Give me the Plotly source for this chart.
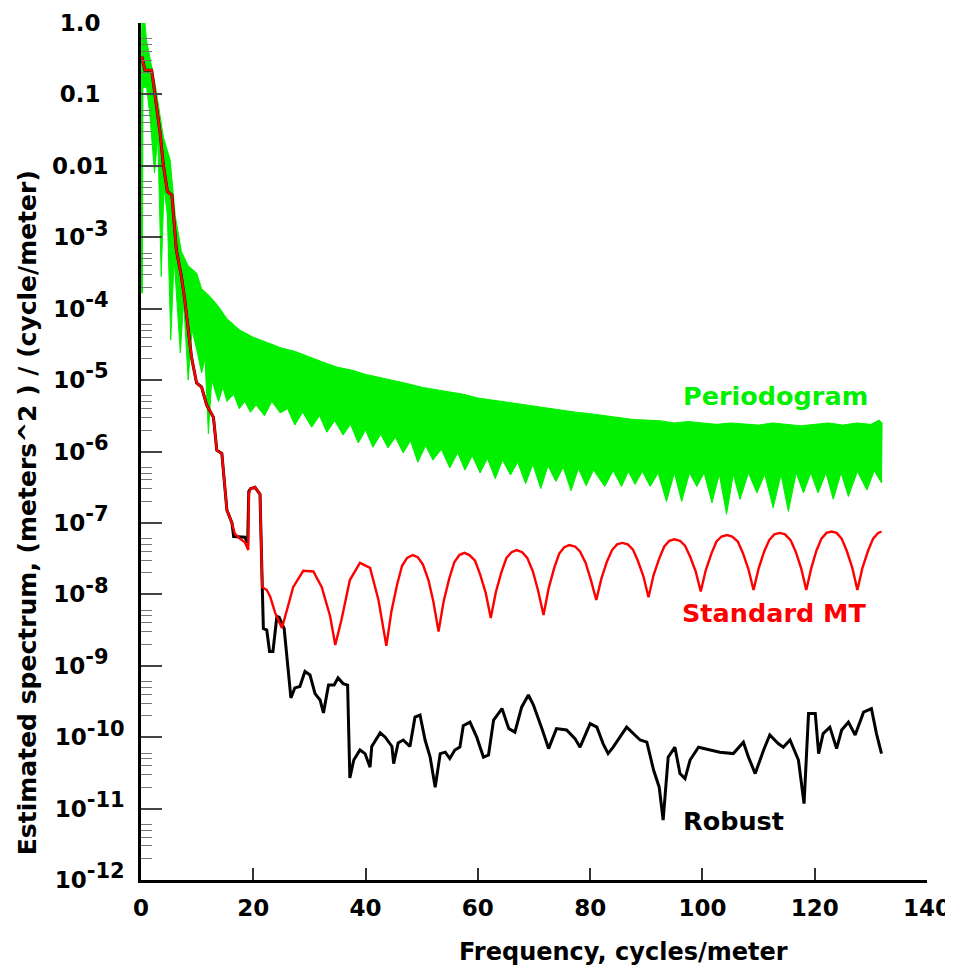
import plotly.graph_objects as go

# ---------------- data (y stored as log10 of the spectrum) -------------
# Periodogram: upper and lower envelope of the (very dense) green trace
pg_upper = [(0.05, 0.0), (0.7, 0.0), (1.0, -0.25), (1.6, -0.5), (2.5, -0.85), (3.2, -1.2), (4.0, -1.6),
            (5.2, -1.92), (6.1, -2.7), (7.2, -3.2), (8.4, -3.4), (9.9, -3.5), (10.8, -3.72), (12.3, -3.83),
            (13.8, -3.97), (15.3, -4.14), (17.6, -4.3), (20.0, -4.4), (22.5, -4.47), (25.0, -4.55),
            (27.5, -4.6), (30.0, -4.68), (32.5, -4.75), (35.0, -4.82), (37.5, -4.86), (40.0, -4.92),
            (42.5, -4.96), (45.0, -5.0), (47.5, -5.05), (50.0, -5.1), (52.5, -5.13), (55.0, -5.17),
            (57.5, -5.2), (60.0, -5.25), (62.5, -5.28), (65.0, -5.3), (67.5, -5.34), (70.0, -5.37),
            (72.5, -5.4), (75.0, -5.42), (77.5, -5.45), (80.0, -5.47), (82.5, -5.5), (85.0, -5.52),
            (87.5, -5.55), (90.0, -5.56), (92.5, -5.57), (95.0, -5.6), (97.5, -5.58), (100.0, -5.6),
            (102.5, -5.62), (105.0, -5.6), (107.5, -5.62), (110.0, -5.63), (112.5, -5.6), (115.0, -5.62),
            (117.5, -5.64), (120.0, -5.62), (122.5, -5.6), (125.0, -5.63), (127.5, -5.6), (130.0, -5.62),
            (131.5, -5.56), (132.0, -5.6)]
pg_lower = [(0.05, -0.1), (0.1, -3.78), (0.25, -3.78), (0.35, -0.9), (1.0, -0.9), (1.6, -1.3), (2.4, -2.1),
            (3.0, -1.6), (3.6, -3.55), (4.1, -2.3), (4.7, -2.7), (5.3, -4.44), (5.9, -3.3), (7.0, -4.62),
            (7.6, -3.9), (8.4, -5.0), (9.1, -4.3), (10.0, -4.6), (10.8, -4.9), (11.4, -4.7), (12.0, -5.75),
            (12.6, -5.0), (13.8, -5.3), (14.6, -5.1), (15.3, -5.3), (16.5, -5.2), (17.5, -5.4), (18.5, -5.3),
            (19.5, -5.45), (20.5, -5.35), (22.0, -5.5), (23.3, -5.3), (24.8, -5.46), (26.1, -5.4),
            (27.4, -5.63), (28.8, -5.45), (30.4, -5.66), (31.8, -5.5), (33.1, -5.73), (34.5, -5.57),
            (36.0, -5.77), (37.3, -5.62), (38.7, -5.88), (40.0, -5.7), (41.3, -5.94), (42.7, -5.76),
            (44.0, -5.95), (45.3, -5.8), (46.7, -6.02), (48.0, -5.85), (49.3, -6.15), (50.7, -5.92),
            (52.0, -6.12), (53.5, -5.97), (55.0, -6.23), (56.4, -6.02), (57.7, -6.26), (59.0, -6.06),
            (60.4, -6.3), (61.7, -6.1), (63.1, -6.38), (64.4, -6.12), (65.8, -6.33), (67.1, -6.15),
            (68.5, -6.45), (69.8, -6.18), (71.2, -6.52), (72.5, -6.2), (73.9, -6.42), (75.2, -6.22),
            (76.6, -6.55), (77.9, -6.24), (79.3, -6.48), (80.6, -6.26), (82.6, -6.49), (84.1, -6.27),
            (85.6, -6.49), (86.8, -6.28), (88.0, -6.46), (89.3, -6.28), (90.7, -6.49), (92.1, -6.3),
            (93.6, -6.70), (95.0, -6.3), (96.3, -6.70), (97.7, -6.3), (99.0, -6.49), (100.3, -6.3),
            (101.7, -6.72), (103.0, -6.32), (104.3, -6.88), (105.5, -6.32), (106.7, -6.67), (108.2, -6.3),
            (109.7, -6.58), (111.1, -6.32), (112.6, -6.79), (114.0, -6.32), (115.3, -6.84), (116.7, -6.3),
            (118.0, -6.58), (119.3, -6.3), (120.6, -6.58), (122.0, -6.3), (123.3, -6.67), (124.7, -6.3),
            (126.0, -6.63), (127.6, -6.28), (129.3, -6.54), (130.6, -6.27), (131.9, -6.44), (132.0, -5.6)]

# Standard multitaper estimate
mt_points = [(0.15, -0.47), (0.7, -0.66), (1.9, -0.66), (2.5, -1.03), (3.4, -1.54), (4.0, -2.0), (4.7, -2.36),
             (5.5, -2.41), (6.3, -3.18), (7.2, -3.55), (7.8, -3.88), (9.0, -4.68), (9.9, -5.04), (10.8, -5.1),
             (11.7, -5.35), (12.9, -5.52), (13.5, -5.98), (14.4, -6.03), (15.3, -6.82), (16.2, -7.0),
             (16.7, -7.15), (17.6, -7.22), (18.5, -7.27), (19.1, -7.38), (19.2, -6.6), (19.5, -6.52),
             (20.3, -6.5), (21.2, -6.6), (21.6, -7.9), (22.4, -7.94), (23.0, -8.03), (23.9, -8.26),
             (25.1, -8.47), (26.0, -8.22), (27.1, -7.9), (28.9, -7.67), (30.7, -7.68), (32.2, -7.9),
             (33.7, -8.31), (34.6, -8.71), (35.7, -8.36), (37.2, -7.8), (39.0, -7.56), (40.8, -7.63),
             (42.3, -8.08), (43.0, -8.40), (43.7, -8.72), (44.6, -8.24), (45.6, -7.87), (46.5, -7.60),
             (47.4, -7.49), (48.4, -7.45), (49.3, -7.48), (50.2, -7.58), (51.2, -7.80), (52.1, -8.11),
             (53.0, -8.52), (53.9, -8.10), (54.9, -7.78), (55.8, -7.55), (56.7, -7.45), (57.6, -7.42),
             (58.5, -7.45), (59.5, -7.53), (60.4, -7.72), (61.4, -7.98), (62.3, -8.33), (63.2, -7.97),
             (64.2, -7.69), (65.1, -7.49), (66.0, -7.41), (66.9, -7.38), (67.9, -7.41), (68.8, -7.49),
             (69.8, -7.68), (70.7, -7.94), (71.7, -8.29), (72.6, -7.92), (73.6, -7.63), (74.5, -7.43),
             (75.4, -7.34), (76.3, -7.31), (77.3, -7.33), (78.2, -7.40), (79.2, -7.56), (80.1, -7.79),
             (81.1, -8.08), (82.0, -7.78), (83.0, -7.54), (83.9, -7.38), (84.8, -7.30), (85.7, -7.28),
             (86.7, -7.30), (87.6, -7.37), (88.5, -7.53), (89.5, -7.75), (90.4, -8.04), (91.3, -7.73),
             (92.3, -7.50), (93.2, -7.33), (94.1, -7.25), (95.0, -7.23), (96.0, -7.25), (96.9, -7.32),
             (97.8, -7.47), (98.8, -7.68), (99.7, -7.96), (100.6, -7.66), (101.6, -7.43), (102.5, -7.26),
             (103.4, -7.19), (104.4, -7.17), (105.3, -7.19), (106.3, -7.26), (107.2, -7.42), (108.2, -7.65),
             (109.1, -7.94), (110.0, -7.64), (111.0, -7.40), (111.9, -7.24), (112.8, -7.16), (113.8, -7.14),
             (114.7, -7.16), (115.7, -7.24), (116.6, -7.40), (117.6, -7.64), (118.5, -7.94), (119.4, -7.63),
             (120.3, -7.39), (121.2, -7.22), (122.1, -7.14), (123.0, -7.12), (123.9, -7.14), (124.8, -7.22),
             (125.7, -7.39), (126.7, -7.63), (127.6, -7.94), (128.5, -7.63), (129.5, -7.39), (130.4, -7.22),
             (131.3, -7.14), (131.9, -7.12)]

# Robust multitaper estimate
rb_points = [(0.15, -0.47), (0.7, -0.66), (1.9, -0.66), (2.5, -1.03), (3.4, -1.54), (4.0, -2.0), (4.7, -2.36),
             (5.5, -2.41), (6.3, -3.18), (7.2, -3.55), (7.8, -3.88), (9.0, -4.68), (9.9, -5.04), (10.8, -5.1),
             (11.7, -5.35), (12.9, -5.52), (13.5, -5.98), (14.4, -6.03), (15.3, -6.82), (16.2, -7.0),
             (16.5, -7.19), (18.5, -7.2), (19.0, -7.28), (19.2, -6.56), (19.5, -6.52), (20.3, -6.5),
             (21.2, -6.6), (21.6, -7.9), (21.8, -8.48), (22.4, -8.5), (22.9, -8.8), (23.5, -8.8),
             (24.2, -8.31), (24.6, -8.32), (25.5, -8.48), (26.7, -9.45), (27.4, -9.31), (28.3, -9.29),
             (29.2, -9.08), (30.1, -9.13), (31.0, -9.39), (31.9, -9.48), (32.5, -9.66), (33.4, -9.27),
             (34.4, -9.27), (35.1, -9.17), (36.0, -9.25), (36.8, -9.27), (37.2, -10.57), (37.9, -10.32),
             (39.0, -10.18), (39.9, -10.23), (40.8, -10.42), (41.1, -10.13), (42.6, -9.94), (43.5, -10.0),
             (44.7, -10.13), (45.0, -10.37), (45.8, -10.08), (46.7, -10.04), (47.9, -10.13), (48.8, -9.72),
             (49.7, -9.69), (50.6, -10.04), (51.5, -10.28), (52.4, -10.70), (53.3, -10.23), (54.2, -10.21),
             (55.0, -10.3), (55.9, -10.18), (56.8, -10.14), (57.4, -9.84), (58.6, -9.79), (59.8, -10.0),
             (61.0, -10.28), (61.9, -10.25), (62.8, -9.76), (64.3, -9.6), (65.5, -9.88), (66.6, -9.93),
             (67.8, -9.58), (69.0, -9.41), (69.9, -9.55), (71.4, -9.88), (72.6, -10.16), (74.0, -9.88),
             (75.8, -9.9), (77.3, -10.02), (78.2, -10.14), (80.0, -9.81), (81.2, -9.86), (82.3, -10.09),
             (83.2, -10.23), (84.1, -10.14), (85.3, -10.0), (86.5, -9.86), (88.9, -10.04), (90.1, -10.07),
             (91.3, -10.46), (92.3, -10.70), (93.0, -11.16), (93.9, -10.28), (95.1, -10.14), (96.0, -10.51),
             (96.9, -10.58), (97.8, -10.32), (99.3, -10.14), (101.4, -10.18), (103.1, -10.21), (105.5, -10.23),
             (107.3, -10.07), (108.2, -10.28), (109.4, -10.51), (110.9, -10.18), (112.0, -9.97), (113.5, -10.09),
             (114.4, -10.14), (115.6, -10.04), (117.1, -10.32), (118.1, -10.93), (118.9, -9.67), (120.1, -9.67),
             (120.7, -10.23), (121.5, -9.95), (122.7, -9.86), (123.9, -10.16), (124.8, -9.90), (126.0, -9.79),
             (127.2, -9.97), (128.7, -9.65), (130.1, -9.60), (131.0, -9.95), (131.9, -10.23)]

y_tick_exponents = [0, -1, -2, -3, -4, -5, -6, -7, -8, -9, -10, -11, -12]
y_tick_labels = ["1.0", "0.1", "0.01", "10^-3", "10^-4", "10^-5", "10^-6", "10^-7", "10^-8", "10^-9",
                 "10^-10", "10^-11", "10^-12"]
x_tick_values = [0, 20, 40, 60, 80, 100, 120, 140]

# ---------------- build figure ----------------
GREEN = "rgb(0,240,0)"
FONT = "DejaVu Sans, Verdana, sans-serif"
NB = "\u00a0"


def unzip(points):
    xs = [p[0] for p in points]
    ys = [10 ** p[1] for p in points]
    return xs, ys


def fmt_tick(label):
    # superscript exponent, padded so labels look left-aligned as in the original
    if "^" in label:
        base, exp = label.split("^")
        txt = base + "<sup><span style='font-size:21px'>" + exp + "</span></sup>"
        return txt + (NB * 2 if len(exp) == 2 else "")
    return label + (NB * 3 if len(label) == 3 else NB * 2)


ux, uy = unzip(pg_upper)
lx, ly = unzip(pg_lower)
mx, my = unzip(mt_points)
rx, ry = unzip(rb_points)

fig = go.Figure()
fig.add_trace(go.Scatter(x=ux + lx[::-1], y=uy + ly[::-1], mode="lines", fill="toself",
                         fillcolor=GREEN, line=dict(color=GREEN, width=1), name="Periodogram",
                         hoverinfo="skip"))
fig.add_trace(go.Scatter(x=rx, y=ry, mode="lines", line=dict(color="black", width=3), name="Robust"))
fig.add_trace(go.Scatter(x=mx, y=my, mode="lines", line=dict(color="red", width=2.4), name="Standard MT"))

minor_vals = [k * 10.0 ** e for e in range(-12, 0) for k in (2, 3, 4, 5, 6)]
tickfont = dict(family=FONT, size=23, weight="bold", color="black")

# the page body adds an 8px margin, so the figure is 8px smaller and margins shifted accordingly
fig.update_layout(
    template="none",
    width=945, height=964,
    margin=dict(l=133, r=26, t=15, b=92, autoexpand=False),
    paper_bgcolor="white", plot_bgcolor="white",
    showlegend=False,
    font=dict(family=FONT, size=23, color="black"),
    xaxis=dict(range=[0, 140], tickvals=x_tick_values, ticks="inside", ticklen=12, tickwidth=1.5,
               tickcolor="#333", showline=True, linecolor="black", linewidth=2.5, showgrid=False,
               zeroline=False, automargin=False, tickfont=tickfont, ticklabelstandoff=6),
    yaxis=dict(type="log", range=[-12, 0], tickvals=[10.0 ** e for e in y_tick_exponents],
               ticktext=[fmt_tick(t) for t in y_tick_labels],
               ticks="inside", ticklen=21, tickwidth=2, tickcolor="#444", showline=True, linecolor="black",
               linewidth=2.5, showgrid=False, zeroline=False, automargin=False,
               tickfont=tickfont, ticklabelstandoff=9,
               minor=dict(tickvals=minor_vals, ticks="inside", ticklen=11, tickwidth=1, tickcolor="#777",
                          showgrid=False)),
)

fig.add_annotation(text="Frequency, cycles/meter", xref="paper", yref="paper", x=0.6145, y=-0.084,
                   xanchor="center", yanchor="middle", showarrow=False,
                   font=dict(family=FONT, size=24, weight="bold"))
fig.add_annotation(text="Estimated spectrum, (meters^2 ) / (cycle/meter)", xref="paper", yref="paper",
                   x=0, xshift=-114, y=0.428, textangle=-90, xanchor="center", yanchor="middle",
                   showarrow=False, font=dict(family=FONT, size=25, weight="bold"))
fig.add_annotation(text="Periodogram", x=96.2, y=-5.22, xanchor="left", yanchor="middle", showarrow=False,
                   font=dict(family=FONT, size=25.5, weight="bold", color=GREEN))
fig.add_annotation(text="Standard MT", x=96.0, y=-8.26, xanchor="left", yanchor="middle", showarrow=False,
                   font=dict(family=FONT, size=25.5, weight="bold", color="red"))
fig.add_annotation(text="Robust", x=96.2, y=-11.18, xanchor="left", yanchor="middle", showarrow=False,
                   font=dict(family=FONT, size=25.5, weight="bold", color="black"))

fig.write_html("out.html")
